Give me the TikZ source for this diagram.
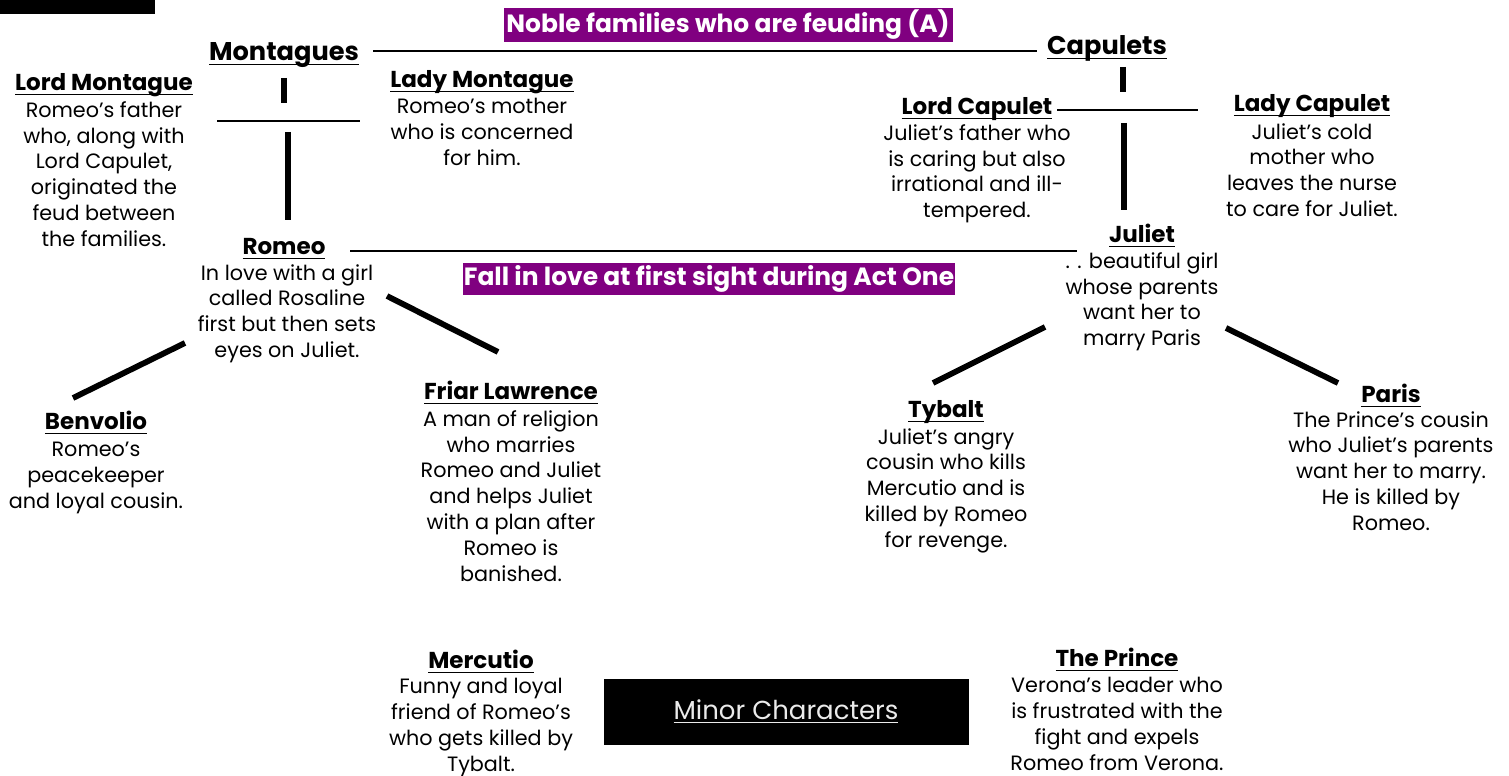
\documentclass[tikz,border=0pt]{standalone}
\usepackage{amsmath}
\usepackage{fontspec}
\setmainfont{Poppins}
\usepackage{tikz}
\newcommand{\uln}[1]{\underline{\smash[b]{#1}}}
\definecolor{banner}{RGB}{128,0,128}
\definecolor{paleink}{RGB}{235,235,235}

\begin{document}
\begin{tikzpicture}[x=0.02cm, y=-0.02cm,
	who/.style={font=\fontsize{13.1}{15}\selectfont\bfseries, inner sep=0pt, anchor=base},
	house/.style={font=\fontsize{14.6}{17}\selectfont\bfseries, inner sep=0pt, anchor=base},
	about/.style={font=\fontsize{11.8}{14.7}\selectfont, align=center, inner sep=0pt, anchor=north},
	note/.style={fill=banner, text=white, inner sep=0pt, font=\fontsize{14.2}{16}\selectfont\bfseries},
	rule/.style={line width=1pt},
	bar/.style={line width=3.3pt}]
	\useasboundingbox (0,0) rectangle (1509,776);
	\fill (0,0) rectangle (155,14);	% tab

	\node[note, minimum width=449*0.02cm, minimum height=34*0.02cm] (feud) at (728,25) {Noble families who are feuding (A)};
	\node[note, minimum width=492*0.02cm, minimum height=32*0.02cm] (love) at (709,279) {Fall in love at first sight during Act One};

	\node[house] (mont) at (284,61) {\uln{Montagues}};	% houses
	\node[house] (capu) at (1107,55) {\uln{Capulets}};

	\node[who] (lmont) at (104,91) {\uln{Lord Montague}};	% Montagues
	\node[about] (lmontT) at (104,101) {Romeo's father\\who, along with\\Lord Capulet,\\originated the\\feud between\\the families.};
	\node[who] (ladym) at (482,88) {\uln{Lady Montague}};
	\node[about] (ladymT) at (482,98) {Romeo's mother\\who is concerned\\for him.};
	\node[who] (romeo) at (284,255) {\uln{Romeo}};
	\node[about] (romeoT) at (287,264) {In love with a girl\\called Rosaline\\first but then sets\\eyes on Juliet.};
	\node[who] (benv) at (96,430) {\uln{Benvolio}};
	\node[about] (benvT) at (96,442) {Romeo's\\peacekeeper\\and loyal cousin.};
	\node[who] (friar) at (511,400) {\uln{Friar Lawrence}};
	\node[about] (friarT) at (511,410) {A man of religion\\who marries\\Romeo and Juliet\\and helps Juliet\\with a plan after\\Romeo is\\banished.};

	\node[who] (lcap) at (977,115) {\uln{Lord Capulet}};	% Capulets
	\node[about] (lcapT) at (977,124) {Juliet's father who\\is caring but also\\irrational and ill-\\tempered.};
	\node[who] (ladyc) at (1312,112) {\uln{Lady Capulet}};
	\node[about] (ladycT) at (1312,123) {Juliet's cold\\mother who\\leaves the nurse\\to care for Juliet.};
	\node[who] (juliet) at (1142,243) {\uln{Juliet}};
	\node[about] (julietT) at (1142,252) {. . beautiful girl\\whose parents\\want her to\\marry Paris};
	\node[who] (tyb) at (946,418) {\uln{Tybalt}};
	\node[about] (tybT) at (946,428) {Juliet's angry\\cousin who kills\\Mercutio and is\\killed by Romeo\\for revenge.};
	\node[who] (paris) at (1391,403) {\uln{Paris}};
	\node[about] (parisT) at (1391,411) {The Prince's cousin\\who Juliet's parents\\want her to marry.\\He is killed by\\Romeo.};

	\node[who] (merc) at (481,669) {\uln{Mercutio}};	% Minor
	\node[about] (mercT) at (481,678) {Funny and loyal\\friend of Romeo's\\who gets killed by\\Tybalt.};
	\node[who] (prince) at (1117,667) {\uln{The Prince}};
	\node[about] (princeT) at (1117,677) {Verona's leader who\\is frustrated with the\\fight and expels\\Romeo from Verona.};
	\node[fill=black, text=paleink, minimum width=365*0.02cm, minimum height=66*0.02cm, font=\fontsize{14.8}{17}\selectfont] (minor) at (786,712) {\uln{Minor Characters}};

	\coordinate (feudL) at (373,51);	% Lines
	\coordinate (feudR) at (1037,51);
	\draw[rule] (feudL) -- (feudR);
	\coordinate (loveL) at (350,251);
	\coordinate (loveR) at (1077,251);
	\draw[rule] (loveL) -- (loveR);
	\coordinate (mparL) at (217,121);
	\coordinate (mparR) at (360,121);
	\draw[rule] (mparL) -- (mparR);
	\coordinate (cparL) at (1057,110);
	\coordinate (cparR) at (1198,110);
	\draw[rule] (cparL) -- (cparR);

	\draw[bar] (284,78) -- (284,103);	% Bars
	\draw[bar] (288,132) -- (288,220);
	\draw[bar] (1123,67) -- (1123,92);
	\draw[bar] (1124,123) -- (1124,210);
	\draw[bar] (185,343) -- (73,398);
	\draw[bar] (387,296) -- (498,352);
	\draw[bar] (1045,327) -- (933,383);
	\draw[bar] (1226,328) -- (1338,383);
\end{tikzpicture}
\end{document}
